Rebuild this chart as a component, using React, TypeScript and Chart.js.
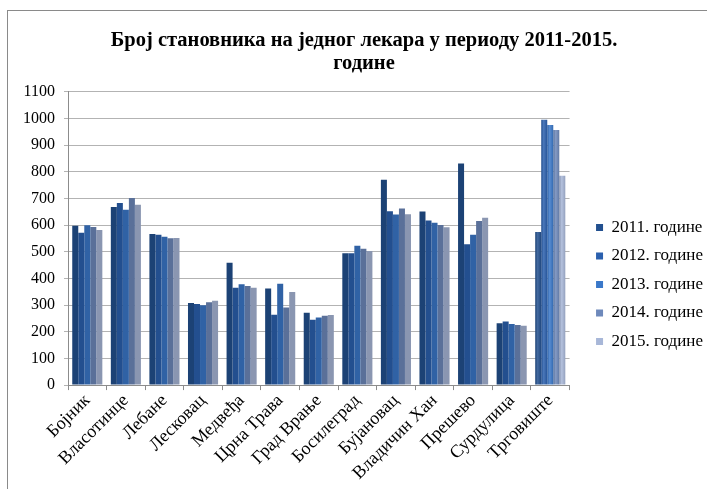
import React, { useEffect, useRef } from "react";
import { Chart, registerables } from "chart.js";

Chart.register(...registerables);

const categories = [
  "Бојник",
  "Власотинце",
  "Лебане",
  "Лесковац",
  "Медвеђа",
  "Црна Трава",
  "Град Врање",
  "Босилеград",
  "Бујановац",
  "Владичин Хан",
  "Прешево",
  "Сурдулица",
  "Трговиште",
];

const seriesLabels = [
  "2011. године",
  "2012. године",
  "2013. године",
  "2014. године",
  "2015. године",
];

const values2011 = [598, 668, 567, 308, 459, 362, 271, 495, 770, 651, 831, 232, 574];
const values2012 = [572, 683, 564, 304, 365, 264, 245, 495, 652, 618, 528, 239, 996];
const values2013 = [600, 658, 557, 300, 378, 380, 254, 523, 640, 609, 564, 229, 976];
const values2014 = [593, 702, 551, 311, 372, 291, 260, 512, 663, 601, 616, 225, 957];
const values2015 = [582, 677, 552, 316, 365, 349, 263, 503, 641, 592, 628, 223, 785];

const titleLines = ["Број становника на једног лекара у периоду 2011-2015.", "године"];

const colors = ["#22508f", "#2b60ae", "#3a78c9", "#6e89bb", "#a8b7d8"];
const seriesValues = [values2011, values2012, values2013, values2014, values2015];

function shade(hex: string, amt: number): string {
  const n = parseInt(hex.slice(1), 16);
  const r = (n >> 16) & 255, g = (n >> 8) & 255, b = n & 255;
  const f = (c: number) => Math.max(0, Math.min(255, Math.round(amt >= 0 ? c + (255 - c) * amt : c * (1 + amt))));
  return `rgb(${f(r)},${f(g)},${f(b)})`;
}

const gradientPlugin = {
  id: "barGradient",
  beforeDatasetsDraw(chart: any) {
    const ctx = chart.ctx;
    chart.data.datasets.forEach((ds: any, i: number) => {
      const meta = chart.getDatasetMeta(i);
      const base = colors[i];
      meta.data.forEach((el: any) => {
        const w = el.width || 6;
        const g = ctx.createLinearGradient(el.x - w / 2, 0, el.x + w / 2, 0);
        g.addColorStop(0, shade(base, -0.18));
        g.addColorStop(0.4, shade(base, 0.15));
        g.addColorStop(1, shade(base, -0.12));
        el.options.backgroundColor = g;
      });
    });
  },
};

const FONT = "'Liberation Serif', 'Times New Roman', serif";

export default function App() {
  const ref = useRef<HTMLCanvasElement | null>(null);
  useEffect(() => {
    if (!ref.current) return;
    const chart = new Chart(ref.current, {
      type: "bar",
      data: {
        labels: categories,
        datasets: seriesLabels.map((label, i) => ({
          label,
          data: seriesValues[i],
          backgroundColor: colors[i],
          borderWidth: 0,
          categoryPercentage: 0.78,
          barPercentage: 1.0,
        })),
      },
      options: {
        responsive: false,
        animation: false,
        layout: { padding: { left: 7, right: 7, top: 0, bottom: 6 } },
        plugins: {
          title: {
            display: true,
            text: titleLines,
            color: "#000",
            font: { family: FONT, size: 20.5, weight: "bold", lineHeight: 1.12 },
            padding: { top: 18, bottom: 17 },
          },
          legend: {
            position: "right",
            title: {
              display: true,
              text: " ",
              font: { family: FONT, size: 10, lineHeight: 1.2 },
              padding: { top: 0, bottom: 62 },
            },
            labels: {
              color: "#000",
              font: { family: FONT, size: 17 },
              boxWidth: 7,
              boxHeight: 7,
              padding: 11.5,
            },
          },
          tooltip: { enabled: false },
        },
        scales: {
          x: {
            grid: {
              offset: true,
              drawOnChartArea: false,
              drawTicks: true,
              tickLength: 5,
              color: "#8c8c8c",
            },
            border: { color: "#8c8c8c" },
            ticks: {
              color: "#000",
              font: { family: FONT, size: 18 },
              minRotation: 45,
              maxRotation: 45,
              autoSkip: false,
              padding: 0,
            },
          },
          y: {
            min: 0,
            max: 1100,
            afterFit: (s: any) => {
              s.width = 53;
            },
            ticks: {
              stepSize: 100,
              color: "#000",
              font: { family: FONT, size: 16 },
              padding: 9,
              callback: (v: any) => String(v),
            },
            grid: { color: "#b3b3b3", tickLength: 4 },
            border: { color: "#8c8c8c" },
          },
          gap: {
            type: "linear",
            position: "right",
            display: false,
            afterFit: (s: any) => {
              s.width = 15;
            },
          },
        },
      } as any,
      plugins: [gradientPlugin],
    });
    return () => chart.destroy();
  }, []);

  return (
    <div
      style={{
        position: "fixed",
        left: 0,
        top: 0,
        width: 707,
        height: 489,
        overflow: "hidden",
        background: "#fff",
      }}
    >
      <div
        style={{
          position: "absolute",
          left: 7,
          top: 10,
          width: 740,
          height: 520,
          borderLeft: "1px solid #8a8a8a",
          borderTop: "1px solid #8a8a8a",
        }}
      >
        <canvas ref={ref} width={712} height={479} style={{ width: 712, height: 479, display: "block" }} />
      </div>
    </div>
  );
}
